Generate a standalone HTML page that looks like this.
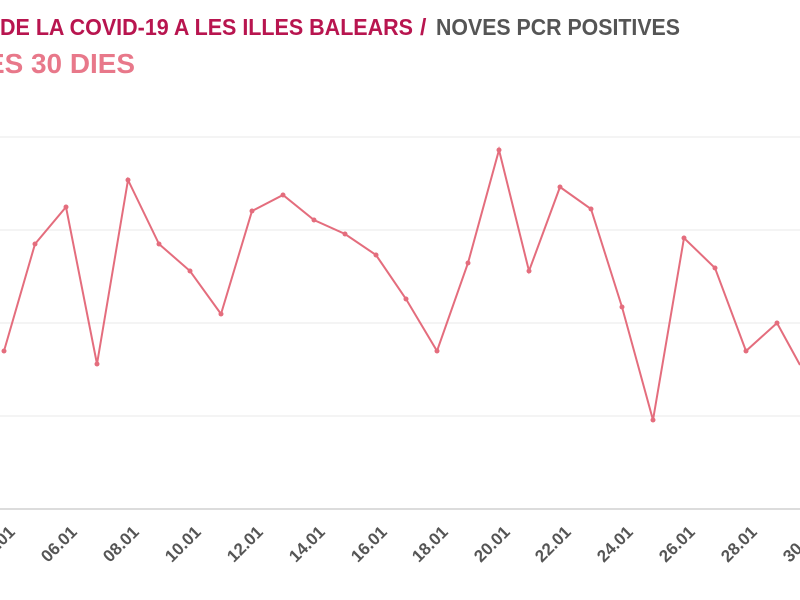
<!DOCTYPE html>
<html><head><meta charset="utf-8"><style>html,body{margin:0;padding:0;background:#fff;}svg{display:block}</style></head>
<body>
<svg width="800" height="600" viewBox="0 0 800 600" xmlns="http://www.w3.org/2000/svg" font-family="Liberation Sans, sans-serif">
<text x="0" y="35" font-size="23" font-weight="bold" fill="#b8154f" textLength="413" lengthAdjust="spacingAndGlyphs">DE LA COVID-19 A LES ILLES BALEARS</text>
<text x="420" y="35" font-size="23" font-weight="bold" fill="#b8154f">/</text>
<text x="436" y="35" font-size="23" font-weight="bold" fill="#555" textLength="244" lengthAdjust="spacingAndGlyphs">NOVES PCR POSITIVES</text>
<text x="-14" y="73" font-size="28" font-weight="bold" fill="#e8788a" textLength="149" lengthAdjust="spacingAndGlyphs">ES 30 DIES</text>
<g stroke="#e8e8e8" stroke-width="1">
<line x1="0" y1="137" x2="800" y2="137"/><line x1="0" y1="230" x2="800" y2="230"/><line x1="0" y1="323" x2="800" y2="323"/><line x1="0" y1="416" x2="800" y2="416"/>
</g>
<line x1="0" y1="509" x2="800" y2="509" stroke="#d0d0d0" stroke-width="1.5"/>
<polyline fill="none" stroke="#e46d7d" stroke-width="2" points="4,351 35,244 66,207 97,364 128,180 159,244 190,271 221,314 252,211 283,195 314,220 345,234 376,255 406,299 437,351 468,263 499,150 529,271 560,187 591,209 622,307 653,420 684,238 715,268 746,351 777,323 800,365"/>
<g fill="#e46d7d">
<circle cx="4" cy="351" r="2.5"/><circle cx="35" cy="244" r="2.5"/><circle cx="66" cy="207" r="2.5"/><circle cx="97" cy="364" r="2.5"/><circle cx="128" cy="180" r="2.5"/><circle cx="159" cy="244" r="2.5"/><circle cx="190" cy="271" r="2.5"/><circle cx="221" cy="314" r="2.5"/><circle cx="252" cy="211" r="2.5"/><circle cx="283" cy="195" r="2.5"/><circle cx="314" cy="220" r="2.5"/><circle cx="345" cy="234" r="2.5"/><circle cx="376" cy="255" r="2.5"/><circle cx="406" cy="299" r="2.5"/><circle cx="437" cy="351" r="2.5"/><circle cx="468" cy="263" r="2.5"/><circle cx="499" cy="150" r="2.5"/><circle cx="529" cy="271" r="2.5"/><circle cx="560" cy="187" r="2.5"/><circle cx="591" cy="209" r="2.5"/><circle cx="622" cy="307" r="2.5"/><circle cx="653" cy="420" r="2.5"/><circle cx="684" cy="238" r="2.5"/><circle cx="715" cy="268" r="2.5"/><circle cx="746" cy="351" r="2.5"/><circle cx="777" cy="323" r="2.5"/>
</g>
<g font-size="17" font-weight="bold" fill="#555" text-anchor="end">
<text transform="translate(16,533) rotate(-45)">04.01</text>
<text transform="translate(78,533) rotate(-45)">06.01</text>
<text transform="translate(140,533) rotate(-45)">08.01</text>
<text transform="translate(202,533) rotate(-45)">10.01</text>
<text transform="translate(264,533) rotate(-45)">12.01</text>
<text transform="translate(326,533) rotate(-45)">14.01</text>
<text transform="translate(388,533) rotate(-45)">16.01</text>
<text transform="translate(449,533) rotate(-45)">18.01</text>
<text transform="translate(511,533) rotate(-45)">20.01</text>
<text transform="translate(572,533) rotate(-45)">22.01</text>
<text transform="translate(634,533) rotate(-45)">24.01</text>
<text transform="translate(696,533) rotate(-45)">26.01</text>
<text transform="translate(758,533) rotate(-45)">28.01</text>
<text transform="translate(820,533) rotate(-45)">30.01</text>
</g>
</svg>
</body></html>
